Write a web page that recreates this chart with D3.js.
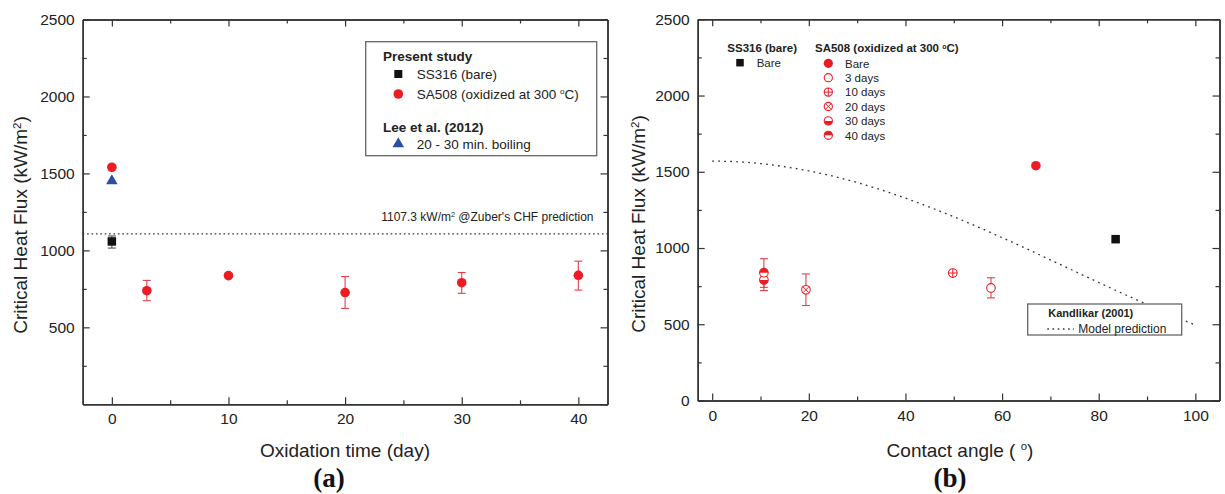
<!DOCTYPE html>
<html>
<head>
<meta charset="utf-8">
<script src="https://cdn.jsdelivr.net/npm/d3@7"></script>
<style>
  html, body { margin: 0; padding: 0; background: #fff; }
  svg { display: block; font-family: "Liberation Sans", Arial, Helvetica, sans-serif; }
</style>
</head>
<body>
<svg id="chart" width="1225" height="494"></svg>
<script>
// ---- Data ----------------------------------------------------------------
// SA508 specimens oxidized at 300 °C
const oxidationDays = [0, 3, 10, 20, 30, 40];
const sa508Labels   = ["Bare", "3 days", "10 days", "20 days", "30 days", "40 days"];
const sa508Chf      = [1540, 738, 836, 726, 790, 838];
const sa508ErrLow   = [null, 673, 824, 623, 721, 742];
const sa508ErrHigh  = [null, 805, 848, 830, 856, 930];
const sa508Angle    = [67.0, 57.7, 49.8, 19.4, 10.7, 10.7];
const sa508Symbols  = ["filled", "open", "plus", "cross", "halfBottom", "halfTop"];

// SS316 bare reference surface
const ss316Day     = [0];
const ss316Chf     = [1058];
const ss316ErrLow  = [1015];
const ss316ErrHigh = [1094];
const ss316Angle   = [83.5];

// Lee et al. (2012), 20 - 30 min. boiling
const leeDay = [0];
const leeChf = [1452];

// Zuber's CHF prediction (kW/m2)
const zuberChf = 1107.3;

// Kandlikar (2001) model prediction vs. contact angle
const kandlikarAngle = [0, 5, 10, 15, 20, 25, 30, 35, 40, 45, 50, 55, 60, 65, 70, 75, 80, 85, 90, 95, 100];
const kandlikarChf   = [1570, 1566, 1554, 1533, 1506, 1471, 1430, 1381, 1327, 1268, 1205, 1138, 1068, 996, 922, 848, 774, 701, 630, 561, 495];

// Axis ticks
const leftXTicks  = [0, 10, 20, 30, 40];
const leftXMinor  = [5, 15, 25, 35];
const leftYTicks  = [500, 1000, 1500, 2000, 2500];
const rightXTicks = [0, 20, 40, 60, 80, 100];
const rightXMinor = [10, 30, 50, 70, 90];
const rightYTicks = [0, 500, 1000, 1500, 2000, 2500];
const yMinor      = [250, 750, 1250, 1750, 2250];

// ---- Styles --------------------------------------------------------------
const RED = "#ec1c24";
const RED_ERR = "#e0414b";
const BLUE = "#2c4f9f";
const BLACK = "#111";
const INK = "#222";
const FRAME = "#333";

const svg = d3.select("#chart");

// ---- Helpers -------------------------------------------------------------
function frameAxes(g, x, y, xMajor, xMinor, yMajor, yMinorVals) {
  const [y0, y1] = y.range();
  const [x0, x1] = x.range();
  const style = sel => {
    sel.attr("font-family", null).attr("font-size", null);
    sel.select(".domain").attr("stroke", FRAME).attr("stroke-width", 1.5);
    sel.selectAll(".tick line").attr("stroke", FRAME).attr("stroke-width", 1.2);
    sel.selectAll(".tick text").attr("fill", INK).style("font-size", "15.5px");
  };
  // bottom
  g.append("g").attr("transform", `translate(0,${y0})`)
    .call(d3.axisBottom(x).tickValues(xMajor).tickSize(-7).tickSizeOuter(0).tickPadding(9).tickFormat(d3.format("d")))
    .call(style);
  g.append("g").attr("transform", `translate(0,${y0})`)
    .call(d3.axisBottom(x).tickValues(xMinor).tickSize(-4).tickSizeOuter(0).tickFormat(""))
    .call(style);
  // top
  g.append("g").attr("transform", `translate(0,${y1})`)
    .call(d3.axisTop(x).tickValues(xMajor).tickSize(-7).tickSizeOuter(0).tickFormat(""))
    .call(style);
  g.append("g").attr("transform", `translate(0,${y1})`)
    .call(d3.axisTop(x).tickValues(xMinor).tickSize(-4).tickSizeOuter(0).tickFormat(""))
    .call(style);
  // left
  g.append("g").attr("transform", `translate(${x0},0)`)
    .call(d3.axisLeft(y).tickValues(yMajor).tickSize(-7).tickSizeOuter(0).tickPadding(8).tickFormat(d3.format("d")))
    .call(style);
  g.append("g").attr("transform", `translate(${x0},0)`)
    .call(d3.axisLeft(y).tickValues(yMinorVals).tickSize(-4).tickSizeOuter(0).tickFormat(""))
    .call(style);
  // right
  g.append("g").attr("transform", `translate(${x1},0)`)
    .call(d3.axisRight(y).tickValues(yMajor.concat([0])).tickSize(-7).tickSizeOuter(0).tickFormat(""))
    .call(style);
  g.append("g").attr("transform", `translate(${x1},0)`)
    .call(d3.axisRight(y).tickValues(yMinorVals).tickSize(-4).tickSizeOuter(0).tickFormat(""))
    .call(style);
}

function errorBar(g, cx, yLo, yHi, color) {
  const w = 4;
  g.append("line").attr("x1", cx).attr("x2", cx).attr("y1", yLo).attr("y2", yHi)
    .attr("stroke", color).attr("stroke-width", 1.1);
  [yLo, yHi].forEach(yy => g.append("line")
    .attr("x1", cx - w).attr("x2", cx + w).attr("y1", yy).attr("y2", yy)
    .attr("stroke", color).attr("stroke-width", 1.1));
}

function marker(g, type, cx, cy, r, color) {
  if (type === "filled") {
    g.append("circle").attr("cx", cx).attr("cy", cy).attr("r", r).attr("fill", color);
    return;
  }
  const ro = r - 0.5;
  g.append("circle").attr("cx", cx).attr("cy", cy).attr("r", ro)
    .attr("fill", "#fff").attr("stroke", color).attr("stroke-width", 1.1);
  if (type === "plus") {
    g.append("path").attr("d", `M${cx - ro},${cy}H${cx + ro}M${cx},${cy - ro}V${cy + ro}`)
      .attr("stroke", color).attr("stroke-width", 1);
  } else if (type === "cross") {
    const d = ro * Math.SQRT1_2;
    g.append("path").attr("d", `M${cx - d},${cy - d}L${cx + d},${cy + d}M${cx - d},${cy + d}L${cx + d},${cy - d}`)
      .attr("stroke", color).attr("stroke-width", 1);
  } else if (type === "halfTop") {
    g.append("path").attr("d", `M${cx - ro},${cy}A${ro},${ro} 0 0 1 ${cx + ro},${cy}Z`).attr("fill", color);
  } else if (type === "halfBottom") {
    g.append("path").attr("d", `M${cx - ro},${cy}A${ro},${ro} 0 0 0 ${cx + ro},${cy}Z`).attr("fill", color);
  }
}

function square(g, cx, cy, s, color) {
  g.append("rect").attr("x", cx - s / 2).attr("y", cy - s / 2).attr("width", s).attr("height", s).attr("fill", color);
}

function triangle(g, cx, cy, color) {
  g.append("path").attr("transform", `translate(${cx},${cy})`)
    .attr("d", d3.symbol(d3.symbolTriangle, 58)()).attr("fill", color);
}

// text with a superscript segment: parts = [[text, isSup], ...]
function richText(g, x, y, parts, opts = {}) {
  const t = g.append("text").attr("x", x).attr("y", y).attr("fill", INK)
    .style("font-size", opts.size || "12px")
    .attr("font-weight", opts.bold ? "bold" : null)
    .attr("text-anchor", opts.anchor || "start");
  if (opts.transform) t.attr("transform", opts.transform).attr("x", 0).attr("y", 0);
  let shifted = false;
  parts.forEach(([s, sup]) => {
    const ts = t.append("tspan").text(s);
    if (sup && !shifted) { ts.attr("dy", "-0.55em").style("font-size", "0.6em"); shifted = true; }
    else if (!sup && shifted) { ts.attr("dy", "0.33em"); shifted = false; }
  });
  return t;
}

// ---- Panel (a): CHF vs oxidation time ------------------------------------
const ga = svg.append("g");
const xa = d3.scaleLinear().domain([-2.5, 42.5]).range([82.7, 607.5]);
const ya = d3.scaleLinear().domain([0, 2500]).range([404.3, 19.5]);

// Zuber prediction line
ga.append("line").attr("x1", xa.range()[0]).attr("x2", xa.range()[1])
  .attr("y1", ya(zuberChf)).attr("y2", ya(zuberChf))
  .attr("stroke", "#333").attr("stroke-width", 1.2).attr("stroke-dasharray", "1.6,2.8");
richText(ga, 593.5, 220.5, [["1107.3 kW/m", false], ["2", true], [" @Zuber's CHF prediction", false]],
  { size: "12px", anchor: "end" });

// error bars
ss316Day.forEach((d, i) => errorBar(ga, xa(d), ya(ss316ErrLow[i]), ya(ss316ErrHigh[i]), "#555"));
oxidationDays.forEach((d, i) => {
  if (sa508ErrLow[i] != null) errorBar(ga, xa(d), ya(sa508ErrLow[i]), ya(sa508ErrHigh[i]), RED_ERR);
});
// markers
ss316Day.forEach((d, i) => square(ga, xa(d), ya(ss316Chf[i]), 8.5, BLACK));
leeDay.forEach((d, i) => triangle(ga, xa(d), ya(leeChf[i]), BLUE));
oxidationDays.forEach((d, i) => marker(ga, "filled", xa(d), ya(sa508Chf[i]), 4.8, RED));

frameAxes(ga, xa, ya, leftXTicks, leftXMinor, leftYTicks, yMinor);

// legend (a)
const la = ga.append("g");
la.append("rect").attr("x", 365.7).attr("y", 41.7).attr("width", 231).attr("height", 114)
  .attr("fill", "#fff").attr("stroke", "#666").attr("stroke-width", 1.3);
la.append("text").attr("x", 383).attr("y", 61).attr("font-weight", "bold").attr("fill", INK)
  .style("font-size", "13.5px").text("Present study");
square(la, 398.3, 74, 8, BLACK);
la.append("text").attr("x", 416.7).attr("y", 78.5).attr("fill", INK).style("font-size", "13.5px").text("SS316 (bare)");
marker(la, "filled", 398.3, 94, 4.8, RED);
richText(la, 416.7, 98.5, [["SA508 (oxidized at 300 ", false], ["o", true], ["C)", false]], { size: "13.5px" });
la.append("text").attr("x", 383).attr("y", 131.5).attr("font-weight", "bold").attr("fill", INK)
  .style("font-size", "13.5px").text("Lee et al. (2012)");
triangle(la, 398.3, 144, BLUE);
la.append("text").attr("x", 416.7).attr("y", 149).attr("fill", INK).style("font-size", "13.5px").text("20 - 30 min. boiling");

// axis titles (a)
richText(ga, 0, 0, [["Critical Heat Flux (kW/m", false], ["2", true], [")", false]],
  { size: "19px", anchor: "middle", transform: "translate(27,225) rotate(-90)" });
ga.append("text").attr("x", 345).attr("y", 456.5).attr("text-anchor", "middle").attr("fill", INK)
  .style("font-size", "19px").text("Oxidation time (day)");
ga.append("text").attr("x", 329).attr("y", 487).attr("text-anchor", "middle").attr("fill", "#111")
  .attr("font-weight", "bold").style("font-family", "'Liberation Serif', 'Times New Roman', serif")
  .style("font-size", "27px").text("(a)");

// ---- Panel (b): CHF vs contact angle -------------------------------------
const gb = svg.append("g");
const xb = d3.scaleLinear().domain([-3, 105]).range([697.7, 1219.5]);
const yb = d3.scaleLinear().domain([0, 2500]).range([400.5, 19.3]);

// Kandlikar model curve
gb.append("path")
  .datum(kandlikarAngle.map((a, i) => [a, kandlikarChf[i]]))
  .attr("d", d3.line().x(d => xb(d[0])).y(d => yb(d[1])).curve(d3.curveMonotoneX))
  .attr("fill", "none").attr("stroke", "#333").attr("stroke-width", 1.3).attr("stroke-dasharray", "1.8,4.2");

// error bars
sa508Angle.forEach((a, i) => {
  if (sa508ErrLow[i] != null) errorBar(gb, xb(a), yb(sa508ErrLow[i]), yb(sa508ErrHigh[i]), RED_ERR);
});
// markers
ss316Angle.forEach((a, i) => square(gb, xb(a), yb(ss316Chf[i]), 8.5, BLACK));
sa508Angle.forEach((a, i) => marker(gb, sa508Symbols[i], xb(a), yb(sa508Chf[i]), 4.8, RED));

frameAxes(gb, xb, yb, rightXTicks, rightXMinor, rightYTicks, yMinor);

// legend (b): materials
const lb = gb.append("g");
lb.append("text").attr("x", 727.3).attr("y", 52.3).attr("font-weight", "bold").attr("fill", INK)
  .style("font-size", "11.5px").text("SS316 (bare)");
square(lb, 740, 62.7, 7.5, BLACK);
lb.append("text").attr("x", 756.7).attr("y", 66.7).attr("fill", INK).style("font-size", "11.5px").text("Bare");
richText(lb, 815, 52.3, [["SA508 (oxidized at 300 ", false], ["o", true], ["C)", false]], { size: "11.5px", bold: true });
sa508Labels.forEach((lab, i) => {
  const yy = 63.3 + i * 14.4;
  marker(lb, sa508Symbols[i], 828.3, yy, 4.6, RED);
  lb.append("text").attr("x", 845).attr("y", yy + 4.2).attr("fill", INK).style("font-size", "11.5px").text(lab);
});

// legend (b): model
const lm = gb.append("g");
lm.append("rect").attr("x", 1027.7).attr("y", 304).attr("width", 154).attr("height", 31)
  .attr("fill", "#fff").attr("stroke", "#666").attr("stroke-width", 1.3);
lm.append("text").attr("x", 1048.3).attr("y", 316.7).attr("font-weight", "bold").attr("fill", INK)
  .style("font-size", "11px").text("Kandlikar (2001)");
lm.append("line").attr("x1", 1047.3).attr("x2", 1074).attr("y1", 329).attr("y2", 329)
  .attr("stroke", "#333").attr("stroke-width", 1.3).attr("stroke-dasharray", "1.6,3.6");
lm.append("text").attr("x", 1078.3).attr("y", 333).attr("fill", INK).style("font-size", "12px").text("Model prediction");

// axis titles (b)
richText(gb, 0, 0, [["Critical Heat Flux (kW/m", false], ["2", true], [")", false]],
  { size: "19px", anchor: "middle", transform: "translate(645,224) rotate(-90)" });
richText(gb, 960, 456.5, [["Contact angle ( ", false], ["o", true], [")", false]],
  { size: "19px", anchor: "middle" });
gb.append("text").attr("x", 950).attr("y", 487).attr("text-anchor", "middle").attr("fill", "#111")
  .attr("font-weight", "bold").style("font-family", "'Liberation Serif', 'Times New Roman', serif")
  .style("font-size", "27px").text("(b)");
</script>
</body>
</html>
